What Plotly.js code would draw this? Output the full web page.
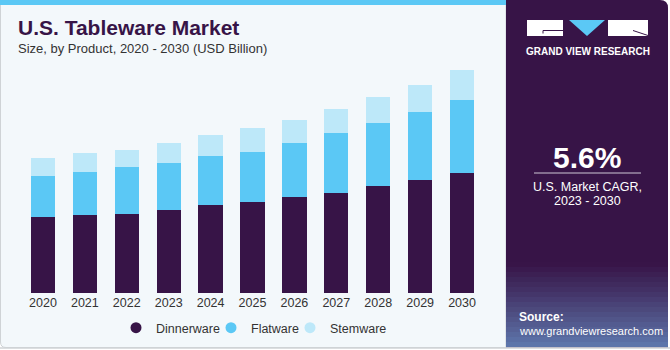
<!DOCTYPE html>
<html><head><meta charset="utf-8">
<script src="https://cdn.plot.ly/plotly-3.0.1.min.js"></script>
<style>html,body{margin:0;padding:0;background:#fff;} #chart{width:670px;height:350px;}</style>
</head><body><div id="chart"></div>
<script>
// ---- data ----
const years = ['2020','2021','2022','2023','2024','2025','2026','2027','2028','2029','2030'];
const dinnerware = [4.55,4.69,4.77,5.01,5.29,5.45,5.77,6.03,6.41,6.77,7.19];
const flatware   = [2.47,2.56,2.78,2.83,2.92,3.05,3.25,3.57,3.79,4.09,4.41];
const stemware   = [1.11,1.14,1.05,1.18,1.29,1.44,1.40,1.47,1.61,1.65,1.82];
const seriesNames = ['Dinnerware','Flatware','Stemware'];
const highlightYear = '2022';
const highlightLabel = '$8.6B';
const cagrValue = '5.6%';
const cagrLine1 = 'U.S. Market CAGR,';
const cagrLine2 = '2023 - 2030';

// ---- styling ----
const colors = ['#371447','#5bc8f5','#bde8f9'];
const W = 670, H = 350;
const M = {l:22, r:187, t:60, b:57, autoexpand:false};
const PW = W - M.l - M.r, PH = H - M.t - M.b;
const px = v => (v - M.l) / PW;
const py = v => (H - M.b - v) / PH;
function P(cmds){
  return cmds.map(c=>{
    if(c[0]==='Z') return 'Z';
    let s=c[0];
    for(let i=1;i<c.length;i+=2){ s += (i>1?' ':'') + px(c[i]) + ',' + py(c[i+1]); }
    return s;
  }).join(' ');
}
const FONT = '"Liberation Sans", Arial, sans-serif';
const legendIds = ['legend','legend2','legend3'];
const legendMarkerX = [136, 231, 310];

const series = [dinnerware, flatware, stemware];
const traces = series.map((vals,i)=>({
  type:'bar', x:years, y:vals, name:seriesNames[i],
  marker:{color:colors[i]}, showlegend:false, hoverinfo:'skip'
}));
seriesNames.forEach((n,i)=>traces.push({
  type:'scatter', mode:'markers', x:[years[0]], y:[null], name:n, legend:legendIds[i],
  marker:{symbol:'circle', size:11, color:colors[i]}, hoverinfo:'skip'
}));

const hi = years.indexOf(highlightYear);
const hiTotal = dinnerware[hi] + flatware[hi] + stemware[hi];

const shapes = [];
shapes.push({type:'path', xref:'paper', yref:'paper', layer:'below',
  path:P([['M',0.5,0],['L',506,0],['L',506,347.5],['L',6,347.5],['Q',0.5,347.5,0.5,342],['Z']]),
  fillcolor:'#f3f8fb', line:{color:'#cfd3d6', width:1}});
shapes.push({type:'rect', xref:'paper', yref:'paper', layer:'below',
  x0:px(0), x1:px(506), y0:py(0), y1:py(5), fillcolor:'#5bc8f5', line:{width:0}});
shapes.push({type:'path', xref:'paper', yref:'paper', layer:'below',
  path:P([['M',506,0],['L',660,0],['Q',668,0,668,8],['L',668,347.5],['L',506,347.5],['Z']]),
  fillcolor:'#371447', line:{width:0}});
const gTop = 262, gBot = 347, N = 17;
for(let i=0;i<N;i++){
  const y0 = gTop + (gBot-gTop)*i/N, y1 = gTop + (gBot-gTop)*(i+1)/N;
  shapes.push({type:'rect', xref:'paper', yref:'paper', layer:'below',
    x0:px(506), x1:px(668), y0:py(y0), y1:py(y1),
    fillcolor:'#6c9ad0', opacity:0.75*Math.pow((i+0.5)/N,1.1), line:{width:0}});
}
shapes.push({type:'line', xref:'paper', yref:'paper', layer:'below',
  x0:px(0), x1:px(670), y0:py(348), y1:py(348), line:{color:'#cfd3d6', width:1.5}});
shapes.push({type:'rect', xref:'paper', yref:'paper', x0:px(527), x1:px(563), y0:py(20), y1:py(36), fillcolor:'#ffffff', line:{width:0}});
shapes.push({type:'rect', xref:'paper', yref:'paper', x0:px(608), x1:px(648), y0:py(20), y1:py(36), fillcolor:'#ffffff', line:{width:0}});
shapes.push({type:'path', xref:'paper', yref:'paper', path:P([['M',569,20],['L',605,20],['L',587,36],['Z']]), fillcolor:'#5bc8f5', line:{width:0}});
shapes.push({type:'path', xref:'paper', yref:'paper', path:P([['M',563,30.5],['L',543,30.5],['L',543,33.5]]), line:{color:'#371447', width:1}});
shapes.push({type:'path', xref:'paper', yref:'paper', path:P([['M',633,30.5],['L',648,35.5]]), line:{color:'#371447', width:1}});
shapes.push({type:'line', xref:'paper', yref:'paper', x0:px(534), x1:px(641), y0:py(173), y1:py(173), line:{color:'#cfc7d6', width:1}});

const annotations = [
  {text:'<b>U.S. Tableware Market</b>', xref:'paper', yref:'paper', x:px(16), y:py(28), xanchor:'left', yanchor:'middle', showarrow:false, font:{family:FONT, size:21, color:'#371447'}},
  {text:'Size, by Product, 2020 - 2030 (USD Billion)', xref:'paper', yref:'paper', x:px(16), y:py(49), xanchor:'left', yanchor:'middle', showarrow:false, font:{family:FONT, size:13, color:'#333333'}},
  {text:highlightLabel, x:highlightYear, y:hiTotal, xref:'x', yref:'y', yanchor:'bottom', yshift:13, showarrow:false, font:{family:FONT, size:13, color:'#333333'}},
  {text:'<b>GRAND VIEW RESEARCH</b>', xref:'paper', yref:'paper', x:px(587.5), y:py(51), xanchor:'center', yanchor:'middle', showarrow:false, font:{family:FONT, size:10, color:'#ffffff'}},
  {text:'<b>'+cagrValue+'</b>', xref:'paper', yref:'paper', x:px(587), y:py(157), xanchor:'center', yanchor:'middle', showarrow:false, font:{family:FONT, size:30, color:'#ffffff'}},
  {text:cagrLine1, xref:'paper', yref:'paper', x:px(587), y:py(187), xanchor:'center', yanchor:'middle', showarrow:false, font:{family:FONT, size:12.5, color:'#ffffff'}},
  {text:cagrLine2, xref:'paper', yref:'paper', x:px(587), y:py(201), xanchor:'center', yanchor:'middle', showarrow:false, font:{family:FONT, size:12.5, color:'#ffffff'}},
  {text:'<b>Source:</b>', xref:'paper', yref:'paper', x:px(517), y:py(317), xanchor:'left', yanchor:'middle', showarrow:false, font:{family:FONT, size:12, color:'#ffffff'}},
  {text:'www.grandviewresearch.com', xref:'paper', yref:'paper', x:px(517), y:py(331), xanchor:'left', yanchor:'middle', showarrow:false, font:{family:FONT, size:11, color:'#ffffff'}}
];

const layout = {
  width:W, height:H, margin:M, barmode:'stack', bargap:0.42,
  paper_bgcolor:'#ffffff', plot_bgcolor:'rgba(0,0,0,0)',
  font:{family:FONT, color:'#333333'},
  xaxis:{type:'category', categoryorder:'array', categoryarray:years, range:[-0.5, years.length-0.5], showgrid:false, showline:false, zeroline:false, ticks:'', tickfont:{family:FONT, size:12.5, color:'#333333'}, fixedrange:true},
  yaxis:{visible:false, range:[0,14.01], fixedrange:true},
  shapes:shapes, annotations:annotations, showlegend:true
};
legendIds.forEach((id,i)=>{
  layout[id] = {orientation:'h', x:px(legendMarkerX[i]-20), xanchor:'left', y:py(328), yanchor:'middle',
    font:{family:FONT, size:12.5, color:'#333333'}, bgcolor:'rgba(0,0,0,0)'};
});
Plotly.newPlot('chart', traces, layout, {displayModeBar:false, staticPlot:true});
</script></body></html>
